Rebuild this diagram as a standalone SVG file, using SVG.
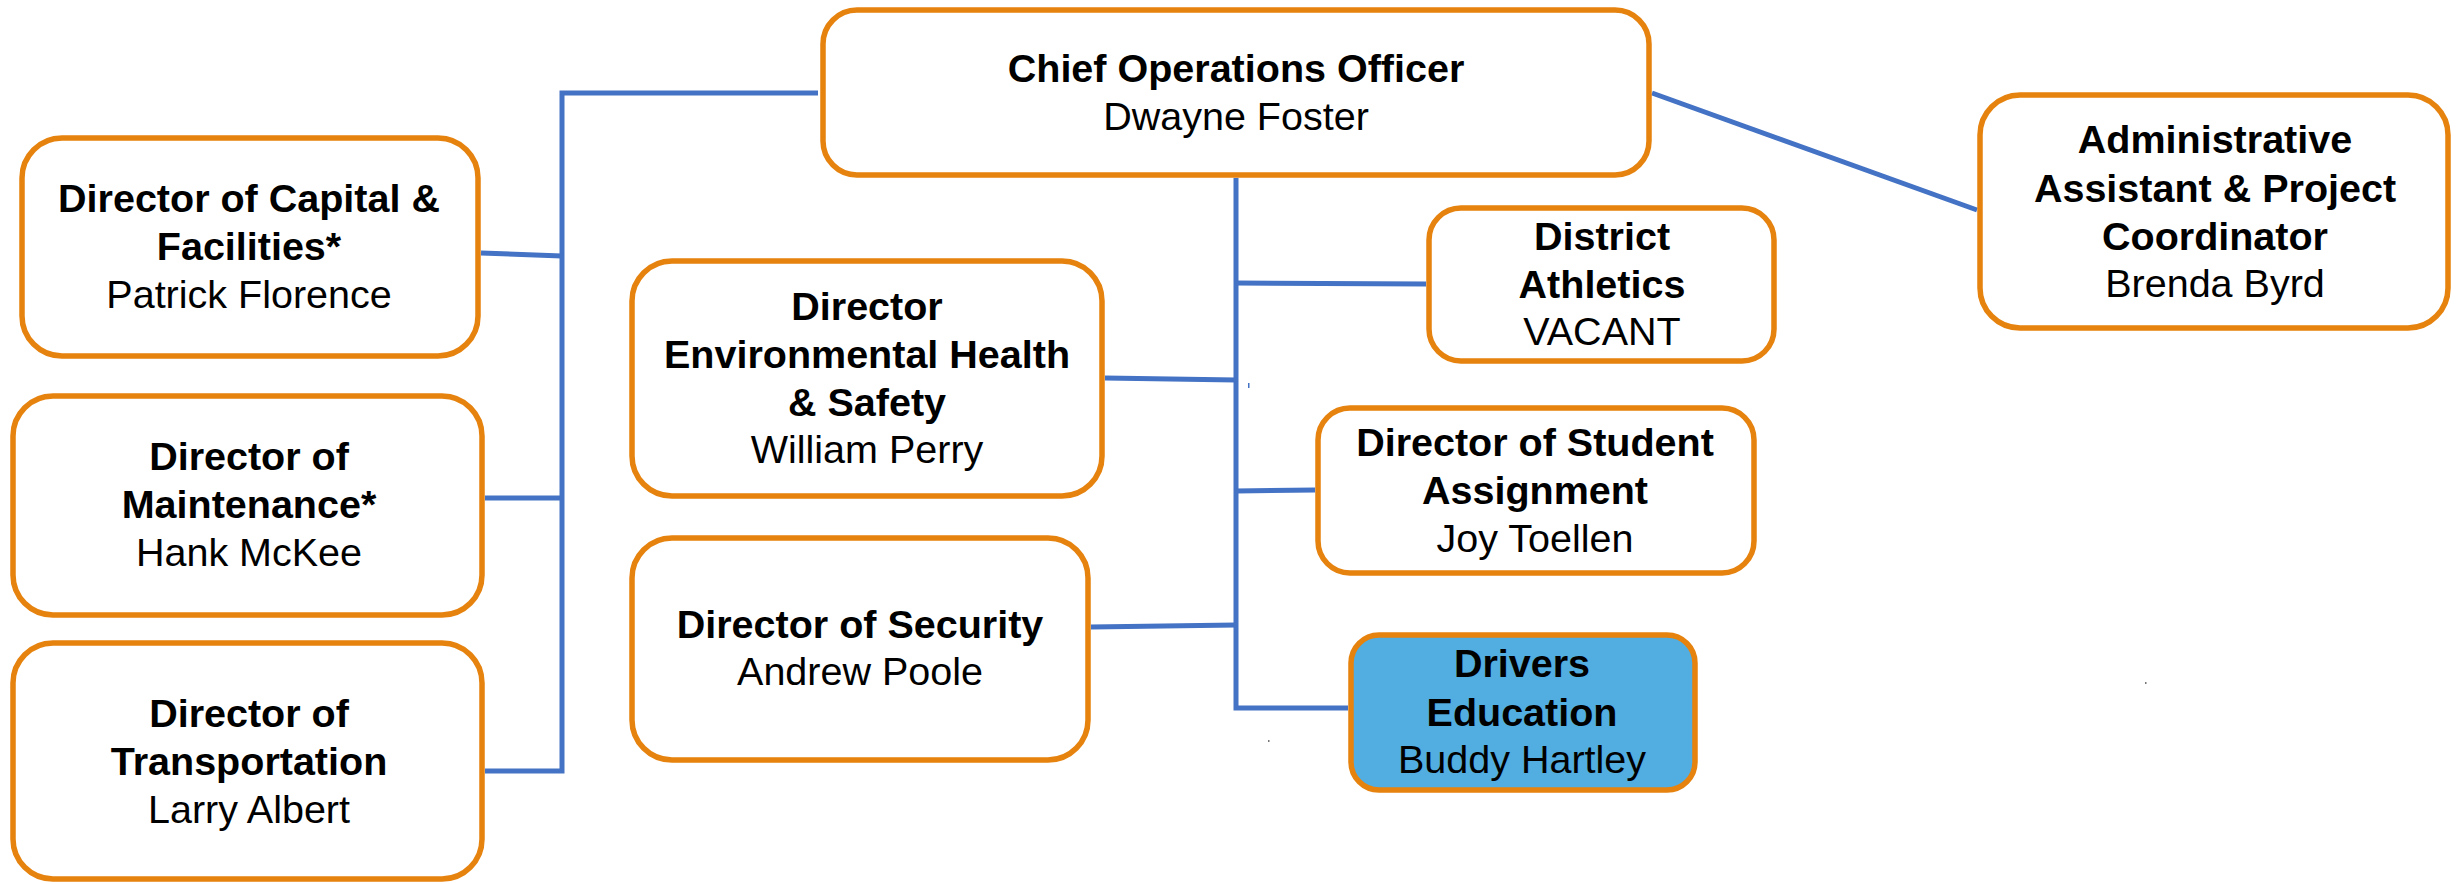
<svg xmlns="http://www.w3.org/2000/svg" width="2463" height="884" viewBox="0 0 2463 884">
<style>
.box{fill:#ffffff;stroke:#E6820E;stroke-width:5.5}
.hl{fill:#52ADE0}
.ln{fill:none;stroke:#4472C4;stroke-width:5}
text{font-family:"Liberation Sans",Arial,sans-serif;font-size:39.5px;fill:#000;text-anchor:middle}
.b{font-weight:bold}
</style>
<rect width="2463" height="884" fill="#ffffff"/>
<g id="connectors">
<polyline class="ln" points="818,93 562,93 562,771 485,771"/>
<line class="ln" x1="481" y1="253" x2="562" y2="256"/>
<line class="ln" x1="485" y1="498" x2="562" y2="498"/>
<polyline class="ln" points="1236,178 1236,708 1348,708"/>
<line class="ln" x1="1236" y1="283" x2="1426" y2="284"/>
<line class="ln" x1="1105" y1="378" x2="1236" y2="380"/>
<line class="ln" x1="1236" y1="491" x2="1315" y2="490"/>
<line class="ln" x1="1091" y1="627" x2="1236" y2="625"/>
<line class="ln" x1="1652" y1="93" x2="1977" y2="210"/>
<rect x="1248" y="383" width="1.5" height="5" fill="#4472C4"/>
<rect x="1268" y="740" width="1.5" height="2" fill="#777777"/>
<rect x="2145" y="682" width="1.5" height="2" fill="#777777"/>
</g>
<g id="chief">
<rect class="box" x="823" y="10" width="826" height="165" rx="34"/>
<text class="b" x="1236" y="82">Chief Operations Officer</text>
<text x="1236" y="130">Dwayne Foster</text>
</g>
<g id="capital">
<rect class="box" x="22" y="138" width="456" height="218" rx="40"/>
<text class="b" x="249" y="212">Director of Capital &amp;</text>
<text class="b" x="249" y="260">Facilities*</text>
<text x="249" y="308">Patrick Florence</text>
</g>
<g id="maintenance">
<rect class="box" x="13" y="396" width="469" height="219" rx="40"/>
<text class="b" x="249" y="470">Director of</text>
<text class="b" x="249" y="518">Maintenance*</text>
<text x="249" y="566">Hank McKee</text>
</g>
<g id="transportation">
<rect class="box" x="13" y="643" width="469" height="236" rx="40"/>
<text class="b" x="249" y="727">Director of</text>
<text class="b" x="249" y="775">Transportation</text>
<text x="249" y="823">Larry Albert</text>
</g>
<g id="env">
<rect class="box" x="632" y="261" width="470" height="235" rx="40"/>
<text class="b" x="867" y="320">Director</text>
<text class="b" x="867" y="368">Environmental Health</text>
<text class="b" x="867" y="416">&amp; Safety</text>
<text x="867" y="463">William Perry</text>
</g>
<g id="security">
<rect class="box" x="632" y="538" width="456" height="222" rx="40"/>
<text class="b" x="860" y="638">Director of Security</text>
<text x="860" y="685">Andrew Poole</text>
</g>
<g id="athletics">
<rect class="box" x="1429" y="208" width="345" height="153" rx="32"/>
<text class="b" x="1602" y="250">District</text>
<text class="b" x="1602" y="298">Athletics</text>
<text x="1602" y="345">VACANT</text>
</g>
<g id="student">
<rect class="box" x="1318" y="408" width="436" height="165" rx="32"/>
<text class="b" x="1535" y="456">Director of Student</text>
<text class="b" x="1535" y="504">Assignment</text>
<text x="1535" y="552">Joy Toellen</text>
</g>
<g id="drivers">
<rect class="box hl" x="1351" y="635" width="344" height="155" rx="28"/>
<text class="b" x="1522" y="677">Drivers</text>
<text class="b" x="1522" y="726">Education</text>
<text x="1522" y="773">Buddy Hartley</text>
</g>
<g id="admin">
<rect class="box" x="1980" y="95" width="468" height="233" rx="40"/>
<text class="b" x="2215" y="153">Administrative</text>
<text class="b" x="2215" y="202">Assistant &amp; Project</text>
<text class="b" x="2215" y="250">Coordinator</text>
<text x="2215" y="297">Brenda Byrd</text>
</g>
</svg>
